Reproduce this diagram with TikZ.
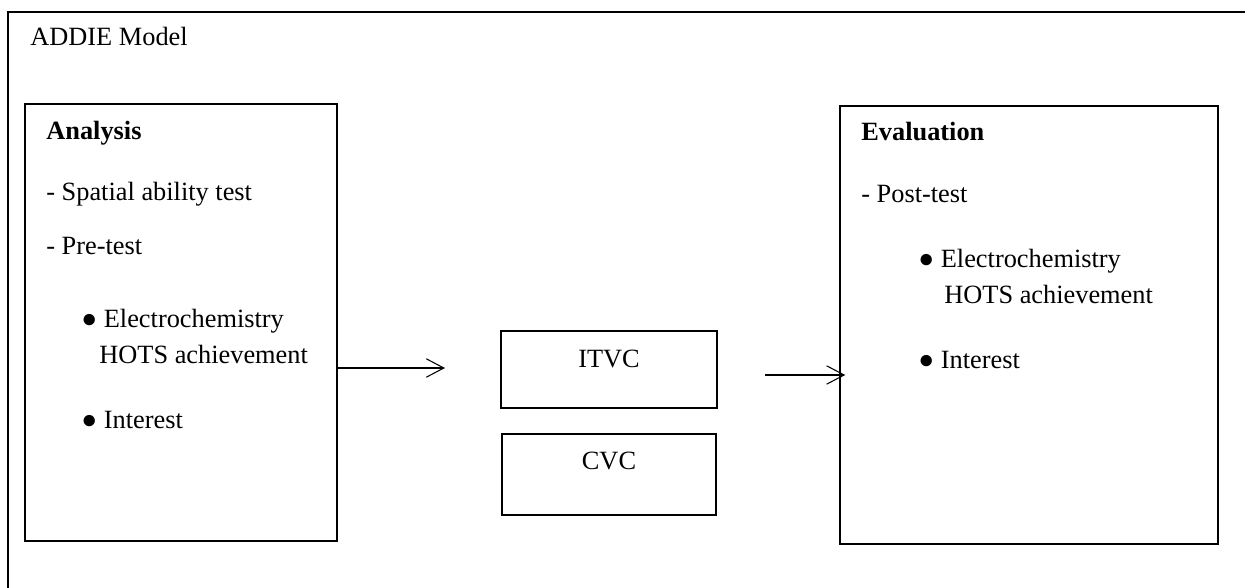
\documentclass[tikz,border=0pt]{standalone}
\usepackage{fontspec}
\setmainfont{Liberation Serif}
\usetikzlibrary{arrows.meta}
\usetikzlibrary{positioning}

\begin{document}
\begin{tikzpicture}[x=0.02cm, y=-0.02cm,
  every node/.style={font=\fontsize{15}{18}\selectfont},
  stagebox/.style={draw, line width=0.7pt, inner sep=0pt, outer sep=0pt},
  txt/.style={anchor=base west, inner sep=0pt},
  flow/.style={line width=0.6pt, -{Straight Barb[length=10pt, width=10.5pt, line width=0.6pt]}}]
\useasboundingbox (0,0) rectangle (1245,588);

% outer frame
\draw[line width=0.7pt] (8,588) -- (8,12) -- (1245,12);
\node[txt] (title) at (30,46) {ADDIE Model};

% stage boxes
\node[stagebox, minimum width=6.24cm, minimum height=8.74cm] (analysis) at (181,322.5) {};
\node[stagebox, minimum width=7.56cm, minimum height=8.76cm] (evaluation) at (1029,325) {};
\node[stagebox, minimum width=4.32cm, minimum height=1.54cm] (itvc) at (609,369.5) {};
\node[stagebox, minimum width=4.28cm, minimum height=1.62cm] (cvc) at (609,474.5) {};

\node[anchor=base, inner sep=0pt] (itvcText) at (609,367) {ITVC};
\node[anchor=base, inner sep=0pt] (cvcText) at (609,469) {CVC};

% analysis contents
\node[txt, font=\fontsize{15}{18}\selectfont\bfseries] (anaTitle) at (46,140) {Analysis};
\node[txt] (anaSpatial) at (46,200) {- Spatial ability test};
\node[txt] (anaPre) at (46,255) {- Pre-test};
\node[txt] (anaElec) at (81,327) {● Electrochemistry};
\node[txt] (anaHots) at (99,363) {HOTS achievement};
\node[txt] (anaInt) at (81,428) {● Interest};

% evaluation contents
\node[txt, font=\fontsize{15}{18}\selectfont\bfseries] (evaTitle) at (861,141) {Evaluation};
\node[txt] (evaPost) at (861,202) {- Post-test};
\node[txt] (evaElec) at (918,267) {● Electrochemistry};
\node[txt] (evaHots) at (944,303) {HOTS achievement};
\node[txt] (evaInt) at (918,368) {● Interest};

% arrows
\coordinate (a1end) at (445,368);
\coordinate (a2start) at (765,375);
\draw[flow] (analysis.east |- a1end) -- (a1end);
\draw[flow, shorten >=-3pt] (a2start) -- (a2start -| evaluation.west);
\end{tikzpicture}
\end{document}
